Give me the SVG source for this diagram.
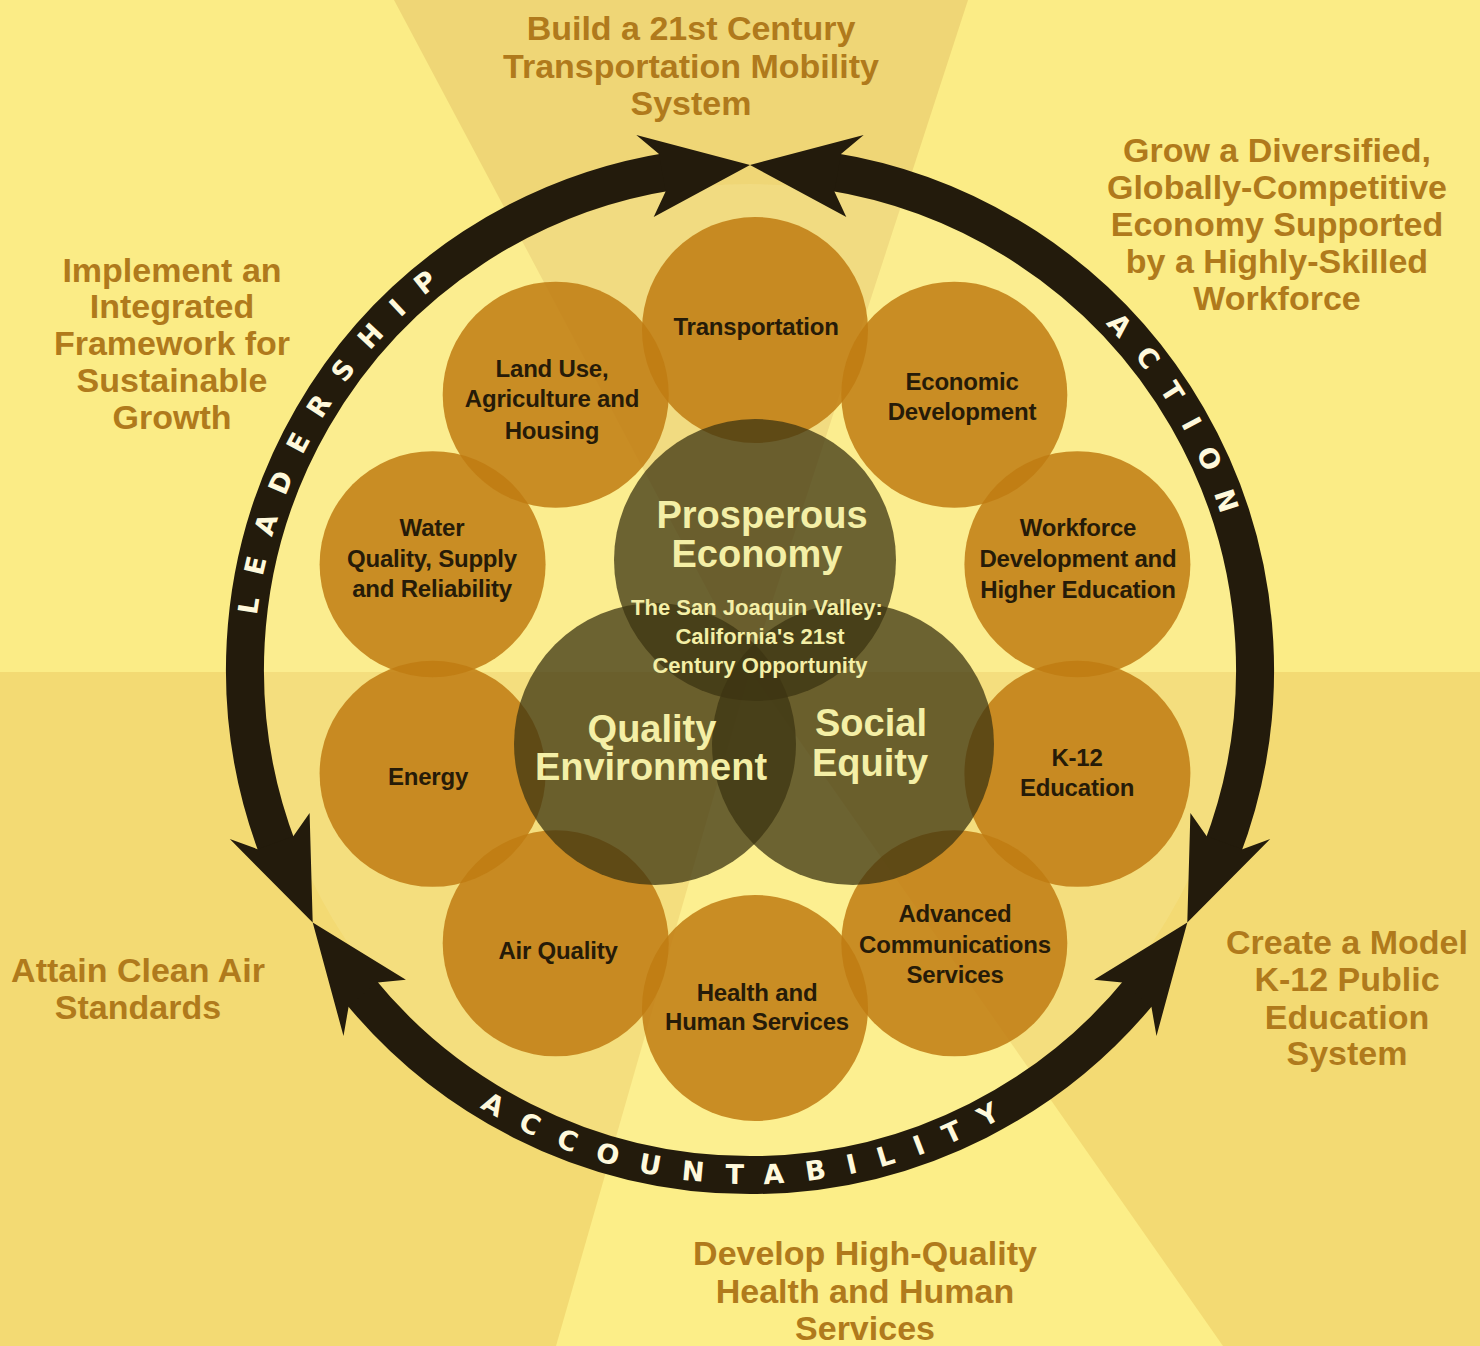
<svg xmlns="http://www.w3.org/2000/svg" width="1480" height="1346" viewBox="0 0 1480 1346">
<defs>
<style>
.goal{font-family:"Liberation Sans",Arial,sans-serif;font-weight:bold;font-size:34px;fill:#B07A1C;text-anchor:middle}
.node{fill:#BF7B12;fill-opacity:0.85}
.nl{font-family:"Liberation Sans",Arial,sans-serif;font-weight:bold;font-size:24px;fill:#261B08;text-anchor:middle;letter-spacing:-0.2px}
.venn{fill:#3C3412;fill-opacity:0.75}
.vt{font-family:"Liberation Sans",Arial,sans-serif;font-weight:bold;font-size:38px;fill:#F4EFA6;text-anchor:middle}
.vs{font-family:"Liberation Sans",Arial,sans-serif;font-weight:bold;font-size:22px;fill:#F4EFA6;text-anchor:middle}
.band{fill:none;stroke:#231B0C;stroke-width:38}
.head{fill:#231B0C}
.rt{font-family:"DejaVu Sans",sans-serif;font-weight:bold;font-size:27px;fill:#FFF9DC;letter-spacing:22px;text-anchor:middle}
</style>
<path id="tpL" d="M 320.5 918 A 496 496 0 0 1 750 174"/>
<path id="tpA" d="M 750 174 A 496 496 0 0 1 1179.5 918"/>
<path id="tpC" d="M 304.9 927 A 514 514 0 0 0 1195.1 927"/>
</defs>

<g id="background">
<rect x="0" y="0" width="1480" height="1346" fill="#FBEC86"/>
<rect x="0" y="672" width="1480" height="674" fill="#F3DA73"/>
<polygon points="750,670 394,0 968,0" fill="#EFD676"/>
<polygon points="750,670 1223,1346 556,1346" fill="#FCEE88"/>
<circle cx="750" cy="670" r="486" fill="#FFF8C0" fill-opacity="0.15"/>
</g>

<g id="connectors">
<path class="band" d="M 278.5 851.0 A 505 505 0 0 1 671.0 171.2"/>
<path class="band" d="M 829.0 171.2 A 505 505 0 0 1 1221.5 851.0"/>
<path class="band" d="M 1142.5 987.8 A 505 505 0 0 1 357.5 987.8"/>
<polygon class="head" points="636.3,135.0 750,165 653.7,217.1 665.6,191.4 659.0,154.0"/>
<polygon class="head" points="863.7,135.0 750,165 846.3,217.1 834.4,191.4 841.0,154.0"/>
<polygon class="head" points="229.8,839.0 312.7,922.5 309.6,813.1 293.3,836.2 257.6,849.2"/>
<polygon class="head" points="343.5,1036.0 312.7,922.5 405.9,979.8 377.7,982.4 348.6,1006.8"/>
<polygon class="head" points="1270.2,839.0 1187.3,922.5 1190.4,813.1 1206.7,836.2 1242.4,849.2"/>
<polygon class="head" points="1156.5,1036.0 1187.3,922.5 1094.1,979.8 1122.3,982.4 1151.4,1006.8"/>
<text class="rt"><textPath href="#tpL" startOffset="50%">LEADERSHIP</textPath></text>
<text class="rt"><textPath href="#tpA" startOffset="50%">ACTION</textPath></text>
<text class="rt"><textPath href="#tpC" startOffset="50%">ACCOUNTABILITY</textPath></text>
</g>

<g id="goal-transportation"><text class="goal" x="691" y="40">Build a 21st Century</text><text class="goal" x="691" y="78">Transportation Mobility</text><text class="goal" x="691" y="115">System</text></g>
<g id="goal-economy"><text class="goal" x="1277" y="162">Grow a Diversified,</text><text class="goal" x="1277" y="199">Globally-Competitive</text><text class="goal" x="1277" y="236">Economy Supported</text><text class="goal" x="1277" y="273">by a Highly-Skilled</text><text class="goal" x="1277" y="310">Workforce</text></g>
<g id="goal-growth"><text class="goal" x="172" y="282">Implement an</text><text class="goal" x="172" y="318">Integrated</text><text class="goal" x="172" y="355">Framework for</text><text class="goal" x="172" y="392">Sustainable</text><text class="goal" x="172" y="429">Growth</text></g>
<g id="goal-air"><text class="goal" x="138" y="982">Attain Clean Air</text><text class="goal" x="138" y="1019">Standards</text></g>
<g id="goal-k12"><text class="goal" x="1347" y="954">Create a Model</text><text class="goal" x="1347" y="991">K-12 Public</text><text class="goal" x="1347" y="1029">Education</text><text class="goal" x="1347" y="1065">System</text></g>
<g id="goal-health"><text class="goal" x="865" y="1265">Develop High-Quality</text><text class="goal" x="865" y="1303">Health and Human</text><text class="goal" x="865" y="1340">Services</text></g>

<g id="node-transportation"><circle class="node" cx="755" cy="330" r="113"/><text class="nl" x="756" y="335">Transportation</text></g>
<g id="node-economic"><circle class="node" cx="954.3" cy="394.7" r="113"/><text class="nl" x="962" y="390">Economic</text><text class="nl" x="962" y="420">Development</text></g>
<g id="node-workforce"><circle class="node" cx="1077.4" cy="564.2" r="113"/><text class="nl" x="1078" y="536">Workforce</text><text class="nl" x="1078" y="567">Development and</text><text class="nl" x="1078" y="598">Higher Education</text></g>
<g id="node-k12"><circle class="node" cx="1077.4" cy="773.8" r="113"/><text class="nl" x="1077" y="766">K-12</text><text class="nl" x="1077" y="796">Education</text></g>
<g id="node-communications"><circle class="node" cx="954.3" cy="943.3" r="113"/><text class="nl" x="955" y="922">Advanced</text><text class="nl" x="955" y="953">Communications</text><text class="nl" x="955" y="983">Services</text></g>
<g id="node-health"><circle class="node" cx="755" cy="1008" r="113"/><text class="nl" x="757" y="1001">Health and</text><text class="nl" x="757" y="1030">Human Services</text></g>
<g id="node-air"><circle class="node" cx="555.7" cy="943.3" r="113"/><text class="nl" x="558" y="959">Air Quality</text></g>
<g id="node-energy"><circle class="node" cx="432.6" cy="773.8" r="113"/><text class="nl" x="428" y="785">Energy</text></g>
<g id="node-water"><circle class="node" cx="432.6" cy="564.2" r="113"/><text class="nl" x="432" y="536">Water</text><text class="nl" x="432" y="567">Quality, Supply</text><text class="nl" x="432" y="597">and Reliability</text></g>
<g id="node-landuse"><circle class="node" cx="555.7" cy="394.7" r="113"/><text class="nl" x="552" y="377">Land Use,</text><text class="nl" x="552" y="407">Agriculture and</text><text class="nl" x="552" y="439">Housing</text></g>

<g id="node-prosperous"><circle class="venn" cx="755" cy="560" r="141"/></g>
<g id="node-quality"><circle class="venn" cx="655" cy="744" r="141"/></g>
<g id="node-social"><circle class="venn" cx="853" cy="744" r="141"/></g>
<g id="venn-labels">
<text class="vt" x="762" y="528">Prosperous</text><text class="vt" x="757" y="567">Economy</text>
<text class="vs" x="757" y="615">The San Joaquin Valley:</text><text class="vs" x="760" y="644">California's 21st</text><text class="vs" x="760" y="673">Century Opportunity</text>
<text class="vt" x="652" y="742">Quality</text><text class="vt" x="651" y="780">Environment</text>
<text class="vt" x="871" y="736">Social</text><text class="vt" x="870" y="776">Equity</text>
</g>
</svg>
